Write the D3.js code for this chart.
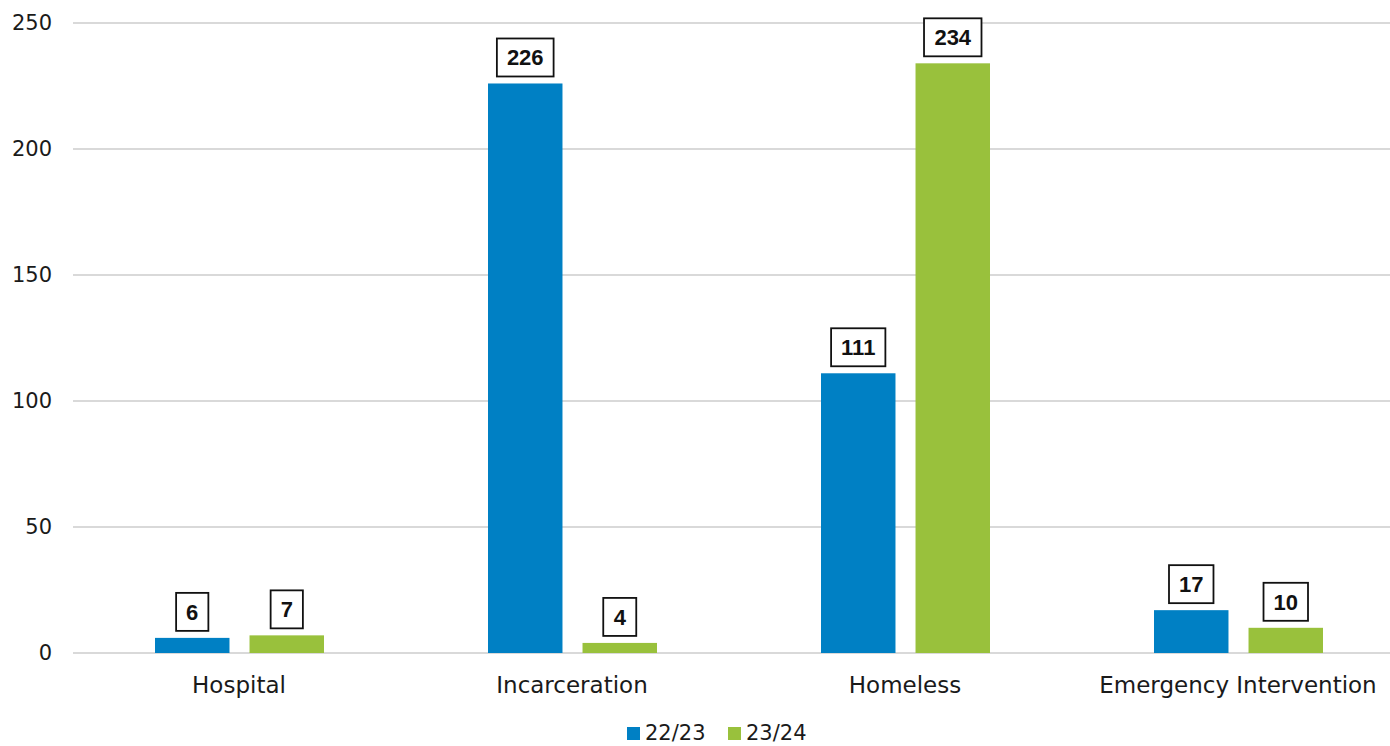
<!DOCTYPE html>
<html>
<head>
<meta charset="utf-8">
<script src="https://cdn.jsdelivr.net/npm/d3@7"></script>
<style>
  html, body { margin: 0; padding: 0; background: #fff; }
  svg { display: block; }
</style>
</head>
<body>
<svg id="chart" width="1390" height="746"></svg>
<script>
const categories = ["Hospital", "Incarceration", "Homeless", "Emergency Intervention"];
const seriesNames = ["22/23", "23/24"];
const values2223 = [6, 226, 111, 17];
const values2324 = [7, 4, 234, 10];
const yTicks = [0, 50, 100, 150, 200, 250];
const colors = ["#0080C4", "#99C13C"];

const font = "'DejaVu Sans', sans-serif";
const labelFont = "'Liberation Sans', Arial, sans-serif";
const svg = d3.select("#chart");
const W = 1390, H = 746;

const x0 = d3.scaleBand().domain(categories).range([72.5, 1404.5]).padding(0);
const x1 = d3.scaleBand().domain(seriesNames).range([82.5, 251.5]).paddingInner(0.212).paddingOuter(0);
const y = d3.scaleLinear().domain([0, 250]).range([653, 23]);

const seriesVals = [values2223, values2324];

// gridlines
svg.append("g").selectAll("line").data(yTicks).join("line")
  .attr("x1", 73).attr("x2", W)
  .attr("y1", d => y(d)).attr("y2", d => y(d))
  .attr("stroke", "#d9d9d9").attr("stroke-width", 2);

// y tick labels
svg.append("g").selectAll("text").data(yTicks).join("text")
  .attr("x", 52).attr("y", d => y(d)).attr("dy", "0.35em")
  .attr("text-anchor", "end")
  .attr("font-family", font).attr("font-size", 21).attr("fill", "#1a1a1a")
  .text(d => d);

// bars
const data = [];
categories.forEach((c, i) => seriesNames.forEach((s, j) => data.push({cat: c, ser: s, val: seriesVals[j][i], j})));

svg.append("g").selectAll("rect").data(data).join("rect")
  .attr("x", d => x0(d.cat) + x1(d.ser))
  .attr("width", x1.bandwidth())
  .attr("y", d => y(d.val))
  .attr("height", d => y(0) - y(d.val))
  .attr("fill", d => colors[d.j]);

// data labels with boxes
const lbl = svg.append("g").selectAll("g").data(data).join("g");
lbl.each(function(d) {
  const g = d3.select(this);
  const cx = x0(d.cat) + x1(d.ser) + x1.bandwidth() / 2;
  const t = g.append("text")
    .attr("x", cx).attr("text-anchor", "middle")
    .attr("font-family", labelFont).attr("font-weight", "bold").attr("font-size", 22)
    .attr("fill", "#111").text(d.val);
  const bb = t.node().getBBox();
  const bw = bb.width + 20, bh = 38;
  const bottom = y(d.val) - 7;
  const top = bottom - bh;
  t.attr("y", top + bh / 2).attr("dy", "0.36em");
  g.insert("rect", "text")
    .attr("x", cx - bw / 2).attr("y", top)
    .attr("width", bw).attr("height", bh)
    .attr("fill", "#fff").attr("stroke", "#111").attr("stroke-width", 1.8);
});

// category labels
svg.append("g").selectAll("text").data(categories).join("text")
  .attr("x", d => x0(d) + x0.bandwidth() / 2).attr("y", 685).attr("dy", "0.35em")
  .attr("text-anchor", "middle")
  .attr("font-family", font).attr("font-size", 23).attr("fill", "#1a1a1a")
  .text(d => d);

// legend
const legendItems = [{name: seriesNames[0], x: 627}, {name: seriesNames[1], x: 728}];
const leg = svg.append("g").selectAll("g").data(legendItems).join("g");
leg.append("rect").attr("x", d => d.x).attr("y", 727).attr("width", 13).attr("height", 13)
  .attr("fill", (d, i) => colors[i]);
leg.append("text").attr("x", d => d.x + 18).attr("y", 733).attr("dy", "0.35em")
  .attr("font-family", font).attr("font-size", 21).attr("fill", "#1a1a1a")
  .text(d => d.name);
</script>
</body>
</html>
